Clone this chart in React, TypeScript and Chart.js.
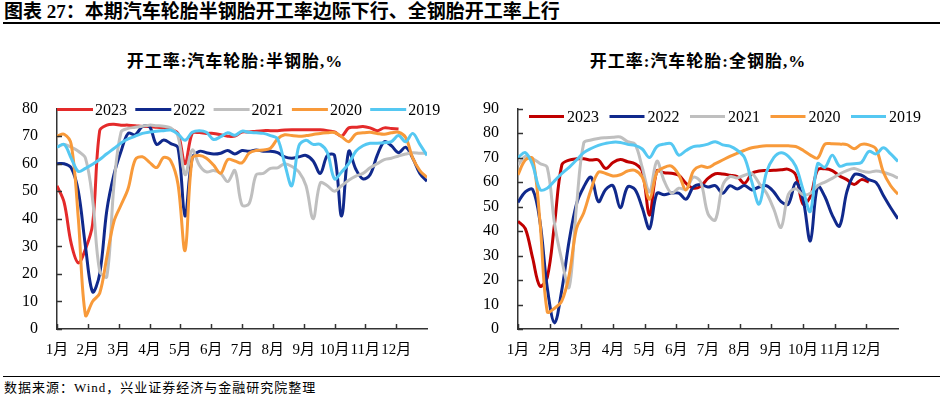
import React, { useEffect, useRef } from 'react';
import { Chart, registerables } from 'chart.js';

Chart.register(...registerables);

const seriesNames = ['2023', '2022', '2021', '2020', '2019'];
const monthLabels = ['1月', '2月', '3月', '4月', '5月', '6月', '7月', '8月', '9月', '10月', '11月', '12月'];
const weeksPerYear = 52;

// 开工率:汽车轮胎:半钢胎 (weekly)
const semi2023 = [52, 46, 31, 24, 29, 38, 72, 74, 74.3, 74, 74, 73.8, 73.5, 73.5, 73.2, 73, 72.5, 71, 60, 71, 71.3, 71, 71, 70.5, 70, 70, 71.5, 71.5, 71.8, 72, 72, 72, 72.2, 72.3, 72.3, 72.3, 72.3, 72.3, 72, 71.5, 70, 73, 73.2, 73.5, 73, 72, 73, 72.8, 72.6];
const semi2022 = [60, 60, 58.5, 50, 30, 13.5, 20, 43, 56, 64.5, 71, 70.5, 73.5, 73.5, 67, 68.6, 67.3, 65.8, 41, 62, 64.5, 64, 63.5, 63.8, 64.8, 63.5, 64.8, 64.5, 65, 64.5, 64.5, 64, 62.5, 62, 62.5, 63, 61, 56.5, 63, 63, 41, 64.5, 58, 54.5, 56, 63, 68, 66.5, 64, 66, 62, 56.5, 53.6];
const semi2021 = [66, 67, 66, 64.5, 62, 47, 21, 19, 52, 71.5, 72.8, 73.2, 73.6, 74, 73.8, 73.6, 73, 70, 56, 65, 59.5, 57, 57.5, 56.5, 53.5, 57.5, 45, 45.5, 56, 56.5, 58.3, 58.5, 60, 59, 57, 52, 40, 53, 52, 50, 52, 54, 55.5, 56.5, 58.5, 60, 61.5, 62, 62.8, 63.5, 64, 63.8, 63.8];
const semi2020 = [70, 70.7, 67, 40, 5, 10, 13, 26, 39, 45, 51, 61.5, 62.5, 60.5, 58.6, 62.3, 61, 52.6, 28.5, 62, 63, 62, 59.5, 56.5, 61.5, 61, 60.3, 63.8, 64.8, 65, 65.6, 69, 70.5, 70.2, 70, 70.2, 70.6, 71, 71.2, 71.3, 69.8, 68, 70.8, 71.2, 71.4, 71, 70.7, 71.2, 71.4, 69.5, 62, 57.5, 55];
const semi2019 = [66, 67, 62, 57.2, 58.3, 59.8, 61.5, 63.6, 65.5, 67.5, 69, 70, 71, 71.5, 71.8, 72, 72.2, 70.8, 68.5, 71.4, 72, 71.4, 68.8, 69.8, 71.2, 70.3, 71.8, 71.4, 71.2, 71, 70.2, 69, 60, 52, 66.5, 68.5, 67, 67, 64, 54.5, 57, 60, 64.5, 66.5, 67.4, 67.4, 67.6, 68, 70.2, 68, 71, 67, 63];

// 开工率:汽车轮胎:全钢胎 (weekly)
const all2023 = [44, 41, 29, 17.5, 21, 43, 67, 69, 69.5, 69.5, 69, 69, 65.5, 68, 69.2, 68.3, 67.5, 64.5, 46.5, 64.5, 63.8, 63.6, 62.8, 59.5, 57.5, 58.3, 61.5, 63.4, 63.3, 62.8, 62.2, 59.5, 63.5, 64.5, 64.7, 64.8, 65, 65.2, 63, 51, 54, 65, 65.4, 64.7, 62.5, 61, 59, 61, 60];
const all2022 = [51.7, 56, 57, 44, 17, 2.5, 16, 36, 51, 58, 62, 52, 57, 58.5, 49.5, 58, 57, 49.5, 41, 55.4, 54.8, 55.5, 55.5, 53, 58, 59, 58, 58.5, 55.4, 58.5, 57.2, 58.6, 56.8, 58, 58.5, 56, 52, 51, 59.8, 53, 36, 58.3, 54, 46.5, 42, 56, 63, 62.8, 61, 59.8, 54.5, 49.5, 45];
const all2021 = [67, 70.5, 69.6, 67.6, 66, 43, 28, 17, 50, 76, 77.2, 77.8, 78.1, 78.3, 78.4, 76.5, 75.5, 66, 56, 68.5, 60.5, 55.5, 57.5, 57, 62, 60, 47, 44.5, 58.5, 62.2, 61.7, 62.8, 63.5, 59.5, 55.5, 49, 41.5, 55, 57.3, 54.8, 55.4, 58.5, 60, 61.5, 63.3, 64.7, 65.5, 64.5, 64, 64.5, 64, 63, 61.7];
const all2020 = [63, 69, 69.6, 44, 7, 8.5, 11.5, 22, 41, 47.5, 57, 64, 63.5, 62.5, 63, 64.5, 64.8, 62, 53, 64, 66, 66.5, 63, 56.8, 64.5, 66.5, 66, 67.5, 69, 70.5, 71.8, 73, 74, 74.5, 74.8, 74.8, 74.8, 74.8, 74.5, 73, 71, 69.8, 75.5, 75.6, 75.5, 75.3, 73.6, 75.4, 75.2, 73.5, 64, 58.5, 55];
const all2019 = [70, 72, 67, 57, 57.5, 60.5, 63.5, 66, 69, 72, 73.7, 75, 75.8, 76.3, 76.2, 75.4, 75, 73.5, 70, 74.5, 75.5, 75.6, 71, 72.9, 74.5, 74.8, 75.5, 76.5, 75.2, 74.7, 73, 70, 60, 51, 64, 70, 72, 70.5, 66.5, 57, 48, 67.5, 66, 71, 66.5, 67.3, 67.5, 68, 72.5, 71.5, 74, 71.5, 68.4];

const semiSeries = [semi2023, semi2022, semi2021, semi2020, semi2019];
const allSeries = [all2023, all2022, all2021, all2020, all2019];
const semiColors = ['#E42A2A', '#10298C', '#BFBFBF', '#F89A3A', '#55C8F2'];
const allColors = ['#C00000', '#10298C', '#BFBFBF', '#F89A3A', '#55C8F2'];

const SERIF = "'Times New Roman', 'Liberation Serif', 'Noto Sans CJK SC', serif";
const AXIS_COLOR = '#333333';

const decorPlugin = {
  id: 'decor',
  afterDatasetsDraw(chart: any, _args: any, opts: any) {
    const { ctx, chartArea, scales } = chart;
    ctx.save();
    ctx.strokeStyle = AXIS_COLOR;
    ctx.lineWidth = 1.5;
    // inward tick marks
    scales.x.ticks.forEach((t: any) => {
      const px = Math.round(scales.x.getPixelForValue(t.value)) + 0.5;
      ctx.beginPath();
      ctx.moveTo(px, chartArea.bottom);
      ctx.lineTo(px, chartArea.bottom - 5);
      ctx.stroke();
    });
    scales.y.ticks.forEach((t: any) => {
      const py = Math.round(scales.y.getPixelForValue(t.value)) + 0.5;
      ctx.beginPath();
      ctx.moveTo(chartArea.left, py);
      ctx.lineTo(chartArea.left + 5, py);
      ctx.stroke();
    });
    // legend drawn inside the plot
    const names: string[] = opts.names;
    const colors: string[] = opts.colors;
    ctx.font = `16px ${SERIF}`;
    ctx.textBaseline = 'middle';
    ctx.textAlign = 'left';
    names.forEach((name, i) => {
      const x = chartArea.left + opts.dx + i * opts.step;
      const y = chartArea.top + opts.dy;
      ctx.strokeStyle = colors[i];
      ctx.lineWidth = 3;
      ctx.beginPath();
      ctx.moveTo(x, y);
      ctx.lineTo(x + opts.lineLen, y);
      ctx.stroke();
      ctx.fillStyle = '#000';
      ctx.fillText(name, x + opts.lineLen + opts.gap, y + 1);
    });
    ctx.restore();
  },
};

function buildConfig(series: number[][], colors: string[], yMax: number, legend: any): any {
  return {
    type: 'line',
    data: {
      datasets: series.map((arr, i) => ({
        label: seriesNames[i],
        data: arr.map((v, w) => ({ x: w, y: v })),
        borderColor: colors[i],
        backgroundColor: colors[i],
        borderWidth: 3,
        pointRadius: 0,
        tension: 0.35,
        fill: false,
        order: series.length - i,
      })),
    },
    options: {
      responsive: false,
      animation: false,
      events: [],
      layout: { padding: { top: 7, right: 33, left: 0, bottom: 0 } },
      plugins: {
        legend: { display: false },
        tooltip: { enabled: false },
        decor: { names: seriesNames, colors, ...legend },
      },
      scales: {
        x: {
          type: 'linear',
          min: 0,
          max: weeksPerYear,
          grid: { display: false, drawTicks: false },
          border: { display: true, color: AXIS_COLOR, width: 1.5 },
          afterBuildTicks: (s: any) => {
            s.ticks = monthLabels.map((_, i) => ({ value: (i * weeksPerYear) / 12 }));
          },
          afterFit: (s: any) => {
            s.height = 41;
          },
          ticks: {
            autoSkip: false,
            maxRotation: 0,
            padding: 12,
            color: '#000',
            font: { family: SERIF, size: 15 },
            callback: (_v: any, i: number) => monthLabels[i],
          },
        },
        y: {
          min: 0,
          max: yMax,
          grid: { display: false, drawTicks: false },
          border: { display: true, color: AXIS_COLOR, width: 1.5 },
          afterFit: (s: any) => {
            s.width = 57;
          },
          ticks: {
            stepSize: 10,
            padding: 19,
            color: '#000',
            font: { family: SERIF, size: 16 },
          },
        },
      },
    },
    plugins: [decorPlugin],
  };
}

function TyreChart(props: { series: number[][]; colors: string[]; yMax: number; legend: any; left: number; width: number }) {
  const ref = useRef<HTMLCanvasElement>(null);
  useEffect(() => {
    const chart = new Chart(ref.current as HTMLCanvasElement, buildConfig(props.series, props.colors, props.yMax, props.legend));
    return () => chart.destroy();
  }, []);
  return (
    <canvas
      ref={ref}
      width={props.width}
      height={290}
      style={{ position: 'absolute', left: props.left, top: 80, width: props.width, height: 290 }}
    />
  );
}

export default function App() {
  const titleFont = SERIF;
  return (
    <div style={{ position: 'fixed', left: 0, top: 0, width: 942, height: 397, background: '#fff', overflow: 'hidden' }}>
      <div style={{ position: 'absolute', left: 4, top: 1, fontFamily: titleFont, fontWeight: 700, fontSize: 19, lineHeight: '22px', whiteSpace: 'nowrap', color: '#000' }}>
        图表 27：本期汽车轮胎半钢胎开工率边际下行、全钢胎开工率上行
      </div>
      <div style={{ position: 'absolute', left: 3, top: 22, width: 937, height: 2, background: '#000' }} />
      <div style={{ position: 'absolute', left: 0, top: 51, width: 470, textAlign: 'center', fontFamily: titleFont, fontWeight: 700, fontSize: 17, lineHeight: '22px', letterSpacing: 1, whiteSpace: 'nowrap', color: '#000' }}>
        开工率:汽车轮胎:半钢胎,%
      </div>
      <div style={{ position: 'absolute', left: 463, top: 51, width: 470, textAlign: 'center', fontFamily: titleFont, fontWeight: 700, fontSize: 17, lineHeight: '22px', letterSpacing: 1, whiteSpace: 'nowrap', color: '#000' }}>
        开工率:汽车轮胎:全钢胎,%
      </div>
      <TyreChart series={semiSeries} colors={semiColors} yMax={80} left={0} width={460} legend={{ dx: 0, dy: 1, step: 78.3, lineLen: 36, gap: 2 }} />
      <TyreChart series={allSeries} colors={allColors} yMax={90} left={461} width={470} legend={{ dx: 11, dy: 8, step: 80.5, lineLen: 35, gap: 3 }} />
      <div style={{ position: 'absolute', left: 3, top: 376, width: 937, height: 1, background: '#000' }} />
      <div style={{ position: 'absolute', left: 4, top: 379, fontFamily: titleFont, fontSize: 13, lineHeight: '17px', whiteSpace: 'nowrap', color: '#000', letterSpacing: 1 }}>
        数据来源：Wind，兴业证券经济与金融研究院整理
      </div>
    </div>
  );
}
